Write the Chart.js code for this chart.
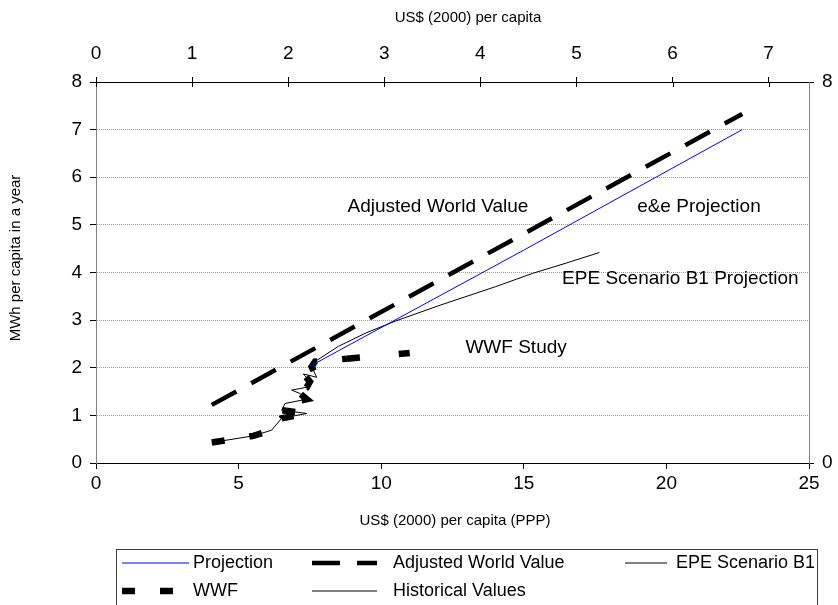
<!DOCTYPE html>
<html>
<head>
<meta charset="utf-8">
<script src="https://cdn.jsdelivr.net/npm/chart.js@4.4.1/dist/chart.umd.min.js"></script>
<style>
html,body{margin:0;padding:0;background:#ffffff;}
#wrap{position:relative;width:838px;height:605px;}
</style>
</head>
<body>
<div id="wrap"><canvas id="c" width="838" height="605"></canvas></div>
<script>
// ---- data ----
const bottomTicks = [0, 5, 10, 15, 20, 25];
const topTicks = [0, 1, 2, 3, 4, 5, 6, 7];
const leftTicks = [0, 1, 2, 3, 4, 5, 6, 7, 8];
const rightTicks = [0, 8];

const projX = [7.5, 15.0, 22.66];
const projY = [2.03, 4.47, 7.0];

const adjX = [4.06, 22.66];
const adjY = [1.22, 7.33];

const epeX = [7.6, 8.5, 9.5, 10.5, 12.0, 14.0, 15.3, 16.5, 17.65];
const epeY = [2.1, 2.45, 2.74, 2.98, 3.3, 3.7, 3.98, 4.2, 4.42];

const histX = [4.06, 5.52, 6.16, 6.51, 7.39, 6.51, 6.63, 7.39, 7.15, 6.86, 7.39, 7.50, 7.27, 7.74, 7.56, 7.68];
const histY = [0.43, 0.57, 0.69, 0.94, 1.04, 1.11, 1.25, 1.34, 1.46, 1.53, 1.59, 1.71, 1.87, 1.80, 2.02, 2.13];

const wwfX = [4.06, 5.52, 6.16, 6.51, 7.39, 6.51, 6.63, 7.39, 7.15, 6.86, 7.39, 7.50, 7.27, 7.74, 7.56, 7.68, 8.8, 11.0];
const wwfY = [0.43, 0.57, 0.69, 0.94, 1.04, 1.11, 1.25, 1.34, 1.46, 1.53, 1.59, 1.71, 1.87, 1.80, 2.02, 2.13, 2.19, 2.31];

const annotations = [
  {text: 'Adjusted World Value', x: 11.99, y: 5.375},
  {text: 'e&e Projection', x: 21.14, y: 5.375},
  {text: 'EPE Scenario B1 Projection', x: 20.49, y: 3.86},
  {text: 'WWF Study', x: 14.73, y: 2.41}
];

// ---- helpers ----
const FONT = '"Liberation Sans", Arial, Helvetica, sans-serif';
const pts = (xs, ys) => xs.map((x, i) => ({x: x, y: ys[i]}));

const lastWWFSeg = wwfX.length - 2;

const datasets = [
  {label: 'Projection', data: pts(projX, projY), borderColor: '#0000ff', borderWidth: 1, borderDash: []},
  {label: 'Adjusted World Value', data: pts(adjX, adjY), borderColor: '#000000', borderWidth: 4.5, borderDash: [28, 17]},
  {label: 'EPE Scenario B1', data: pts(epeX, epeY), borderColor: '#000000', borderWidth: 1, borderDash: []},
  {label: 'WWF', data: pts(wwfX, wwfY), borderColor: '#000000', borderWidth: 6.5, borderDash: [13, 25],
   segment: {borderDash: c => c.p0DataIndex === lastWWFSeg ? [13, 39] : undefined}},
  {label: 'Historical Values', data: pts(histX, histY), borderColor: '#000000', borderWidth: 1, borderDash: []}
].map(d => Object.assign({showLine: true, pointRadius: 0, pointHoverRadius: 0, tension: 0, fill: false, borderCapStyle: 'butt', borderJoinStyle: 'miter'}, d));

// ---- plugins ----
const extras = {
  id: 'extras',
  afterDraw(chart) {
    const ctx = chart.ctx;
    const xs = chart.scales.x, ys = chart.scales.y, x2 = chart.scales.x2;
    const area = chart.chartArea;
    ctx.save();
    // inward part of top tick marks
    ctx.strokeStyle = '#000'; ctx.lineWidth = 1;
    topTicks.forEach(v => {
      const px = Math.round(x2.getPixelForValue(v)) + 0.5;
      ctx.beginPath(); ctx.moveTo(px, area.top); ctx.lineTo(px, area.top + 5); ctx.stroke();
    });
    // annotations
    ctx.fillStyle = '#000';
    ctx.font = '19px ' + FONT;
    ctx.textAlign = 'center'; ctx.textBaseline = 'middle';
    annotations.forEach(a => {
      ctx.fillText(a.text, xs.getPixelForValue(a.x), ys.getPixelForValue(a.y));
    });
    // axis titles
    ctx.font = '15px ' + FONT;
    ctx.fillText('US$ (2000) per capita', 468, 18);
    ctx.fillText('US$ (2000) per capita (PPP)', 455, 521);
    ctx.save();
    ctx.translate(16, 258);
    ctx.rotate(-Math.PI / 2);
    ctx.fillText('MWh per capita in a year', 0, 0);
    ctx.restore();
    // legend box
    ctx.strokeStyle = '#404040'; ctx.lineWidth = 1;
    ctx.strokeRect(116.5, 549.5, 701, 80);
    const items = [
      {i: 0, x1: 122, x2: 189, tx: 193, y: 563},
      {i: 1, x1: 312, x2: 377, tx: 393, y: 563},
      {i: 2, x1: 625, x2: 667, tx: 676, y: 563},
      {i: 3, x1: 122, x2: 173, tx: 193, y: 591},
      {i: 4, x1: 312, x2: 377, tx: 393, y: 591}
    ];
    items.forEach(it => {
      const d = chart.data.datasets[it.i];
      ctx.beginPath();
      ctx.strokeStyle = d.borderColor; ctx.lineWidth = d.borderWidth;
      ctx.setLineDash(d.borderDash || []);
      ctx.moveTo(it.x1, it.y); ctx.lineTo(it.x2, it.y); ctx.stroke();
      ctx.setLineDash([]);
      ctx.fillStyle = '#000';
      ctx.font = '18px ' + FONT;
      ctx.textAlign = 'left'; ctx.textBaseline = 'middle';
      ctx.fillText(d.label, it.tx, it.y);
    });
    ctx.restore();
  }
};

const tickFont = {family: FONT, size: 19};

new Chart(document.getElementById('c'), {
  type: 'scatter',
  data: {datasets: datasets},
  plugins: [extras],
  options: {
    responsive: false,
    animation: false,
    events: [],
    layout: {padding: 0},
    plugins: {legend: {display: false}, tooltip: {enabled: false}, title: {display: false}},
    scales: {
      x: {
        type: 'linear', position: 'bottom', min: 0, max: 25,
        afterBuildTicks: s => { s.ticks = bottomTicks.map(v => ({value: v})); },
        afterFit: s => { s.height = 142; },
        ticks: {color: '#000', font: tickFont, padding: 3, maxRotation: 0, autoSkip: false},
        grid: {drawOnChartArea: false, drawTicks: true, tickLength: 6, tickColor: '#000'},
        border: {color: '#000', width: 1}
      },
      x2: {
        type: 'linear', position: 'top', min: 0, max: 7.42,
        afterBuildTicks: s => { s.ticks = topTicks.map(v => ({value: v})); },
        afterFit: s => { s.height = 82; },
        ticks: {color: '#000', font: tickFont, padding: 12, maxRotation: 0, autoSkip: false},
        grid: {drawOnChartArea: false, drawTicks: true, tickLength: 5, tickColor: '#000'},
        border: {color: '#000', width: 1}
      },
      y: {
        type: 'linear', position: 'left', min: 0, max: 8,
        afterBuildTicks: s => { s.ticks = leftTicks.map(v => ({value: v})); },
        afterFit: s => { s.width = 96; },
        ticks: {color: '#000', font: tickFont, padding: 8, autoSkip: false},
        grid: {
          drawOnChartArea: true, drawTicks: true, tickLength: 6, tickColor: '#000', lineWidth: 1,
          color: c => (c.tick && (c.tick.value === 0 || c.tick.value === 8)) ? 'rgba(0,0,0,0)' : '#9a9a9a'
        },
        border: {color: '#808080', width: 1, dash: [1, 1]}
      },
      y2: {
        type: 'linear', position: 'right', min: 0, max: 8,
        afterBuildTicks: s => { s.ticks = rightTicks.map(v => ({value: v})); },
        afterFit: s => { s.width = 29; },
        ticks: {color: '#000', font: tickFont, padding: 8, autoSkip: false},
        grid: {drawOnChartArea: false, drawTicks: true, tickLength: 5, tickColor: '#000'},
        border: {color: '#808080', width: 1}
      }
    }
  }
});
</script>
</body>
</html>
